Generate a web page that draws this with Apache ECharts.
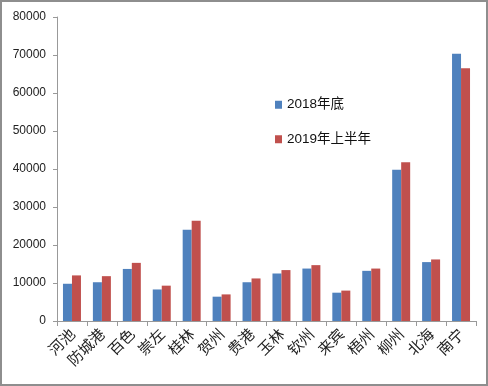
<!DOCTYPE html>
<html><head><meta charset="utf-8">
<script src="https://cdn.jsdelivr.net/npm/echarts@6/dist/echarts.min.js"></script>
<style>html,body{margin:0;padding:0;background:#fff}#c{width:488px;height:386px;box-sizing:border-box;border:2px solid #8e8e8e}</style>
</head><body><div id="c"></div>
<script>
const categories = ['河池','防城港','百色','崇左','桂林','贺州','贵港','玉林','钦州','来宾','梧州','柳州','北海','南宁'];
const s2018 = [9800,10200,13700,8300,24000,6400,10200,12500,13800,7450,13200,39800,15500,70300];
const s2019 = [12000,11800,15300,9300,26400,7000,11200,13400,14700,8000,13800,41800,16200,66500];
const seriesNames = ['2018年底','2019年上半年'];
const chart = echarts.init(document.getElementById('c'));
chart.setOption({
  animation:false,
  grid:{left:55,right:10,top:15,bottom:63},
  legend:{orient:'vertical',left:268,top:91,itemGap:21,itemWidth:7,itemHeight:8,icon:'rect',
    textStyle:{fontSize:13.5,color:'#111',fontFamily:'Liberation Sans, Noto Sans CJK SC'},
    data:seriesNames},
  xAxis:{type:'category',data:categories,
    axisLine:{lineStyle:{color:'#999'}},
    axisTick:{show:true,length:5,lineStyle:{color:'#999'}},
    axisLabel:{rotate:45,interval:0,fontSize:15,color:'#222',fontFamily:'Noto Sans CJK SC',margin:10}},
  yAxis:{type:'value',min:0,max:80000,interval:10000,
    axisLine:{show:true,lineStyle:{color:'#999'}},
    axisTick:{show:true,inside:false,length:4,lineStyle:{color:'#999'}},
    splitLine:{show:false},
    axisLabel:{fontSize:12,color:'#222',fontFamily:'Liberation Sans',margin:11,formatter:function(v){return String(v);}}},
  series:[
    {name:seriesNames[0],type:'bar',data:s2018,barWidth:9,barGap:'0%',itemStyle:{color:'#4F81BD'}},
    {name:seriesNames[1],type:'bar',data:s2019,barWidth:9,itemStyle:{color:'#C0504D'}}
  ]
});
</script></body></html>
